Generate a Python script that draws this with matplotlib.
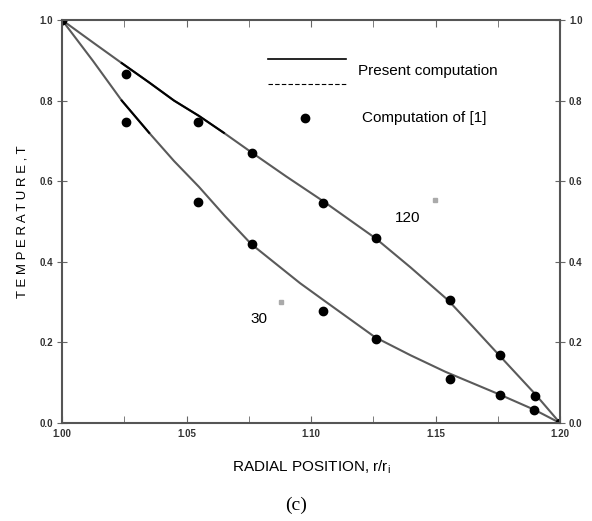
import matplotlib
matplotlib.use("Agg")
import matplotlib.pyplot as plt
import numpy as np

plt.rcParams['font.family'] = ['Liberation Sans', 'DejaVu Sans']

# Computation of [1] (points)
r_pts = [1.000, 1.0257, 1.0546, 1.0763, 1.1048, 1.1261, 1.1558, 1.1759, 1.190, 1.200]
T120_pts = [1.0, 0.866, 0.747, 0.670, 0.546, 0.459, 0.305, 0.169, 0.068, 0.0]
r_pts30 = [1.000, 1.0257, 1.0546, 1.0763, 1.1048, 1.1261, 1.1558, 1.1759, 1.1895, 1.200]
T30_pts = [1.0, 0.747, 0.548, 0.444, 0.278, 0.208, 0.109, 0.069, 0.032, 0.0]

# Present computation (lines)
r120_line = [1.000, 1.0125, 1.024, 1.035, 1.045, 1.055, 1.065, 1.076, 1.090, 1.105,
             1.126, 1.140, 1.155, 1.165, 1.175, 1.190, 1.200]
T120_line = [1.0, 0.944, 0.893, 0.845, 0.800, 0.762, 0.720, 0.672, 0.612, 0.550,
             0.458, 0.386, 0.305, 0.239, 0.172, 0.072, 0.0]
r30_line = [1.000, 1.0125, 1.024, 1.035, 1.045, 1.055, 1.0655, 1.076, 1.0956, 1.105,
            1.1257, 1.140, 1.154, 1.176, 1.190, 1.200]
T30_line = [1.0, 0.898, 0.800, 0.720, 0.650, 0.586, 0.513, 0.444, 0.347, 0.305,
            0.213, 0.168, 0.127, 0.070, 0.032, 0.0]

xticks = [1.00, 1.05, 1.10, 1.15, 1.20]
xtick_labels = ['1.00', '1.05', '1.10', '1.15', '1.20']
yticks = [0.0, 0.2, 0.4, 0.6, 0.8, 1.0]
ytick_labels = ['0.0', '0.2', '0.4', '0.6', '0.8', '1.0']

W, H = 592, 521
fig = plt.figure(figsize=(W / 100, H / 100), dpi=100)
ax = fig.add_axes([62 / W, 1 - 423 / H, 498 / W, 403 / H])

line_col = '#5a5a5a'
ax.plot(r120_line, T120_line, color=line_col, lw=1.5)
ax.plot(r30_line, T30_line, color=line_col, lw=1.5)
# darker stretches of the traced curves
ax.plot(r120_line[2:7], T120_line[2:7], color='black', lw=1.5)
ax.plot(r30_line[2:4], T30_line[2:4], color='black', lw=1.5)

ax.plot(r_pts, T120_pts, 'o', color='black', ms=6)
ax.plot(r_pts30, T30_pts, 'o', color='black', ms=6)

ax.set_xlim(1.0, 1.2)
ax.set_ylim(0.0, 1.0)
ax.set_xticks(xticks)
ax.set_xticklabels(xtick_labels, fontsize=7, fontweight='bold', color='#333')
ax.set_xticks(np.arange(1.0, 1.2001, 0.025), minor=True)
ax.set_yticks(yticks)
ax.set_yticklabels(ytick_labels, fontsize=7, fontweight='bold', color='#333')
ax.tick_params(axis='x', which='both', direction='in', top=True, length=5, color='#666', pad=4)
ax.tick_params(axis='y', which='both', direction='inout', right=True, labelright=True,
               length=7, color='#666', pad=3)
for s in ax.spines.values():
    s.set_color('#555')
    s.set_linewidth(1.5)

ax.set_xlabel('RADIAL POSITION, r/r$_{\\mathregular{i}}$', fontsize=11, labelpad=14)
ax.set_ylabel('T E M P E R A T U R E , T', fontsize=9.5, labelpad=8)

# curve labels
ax.text(1.1335, 0.508, '120', fontsize=11, ha='left', va='center')
ax.plot([1.1496], [0.553], 's', color='#aaa', ms=3)
ax.text(1.0755, 0.258, '30', fontsize=11, ha='left', va='center')
ax.plot([1.0878], [0.300], 's', color='#aaa', ms=3)

# legend (drawn manually)
ax.plot([1.0826, 1.1140], [0.903, 0.903], color='black', lw=1.2, clip_on=False)
ax.plot([1.0826, 1.1140], [0.841, 0.841], color='black', lw=0.8, ls=(0, (4, 2)), clip_on=False)
ax.text(1.1188, 0.874, 'Present computation', fontsize=11, ha='left', va='center')
ax.plot([1.0976], [0.757], 'o', color='black', ms=6)
ax.text(1.1204, 0.757, 'Computation of [1]', fontsize=11, ha='left', va='center')

fig.text(296 / W, 1 - 505 / H, '(c)', fontsize=14, family='Liberation Serif', ha='center', va='center')

fig.savefig('out.png', dpi=100)
